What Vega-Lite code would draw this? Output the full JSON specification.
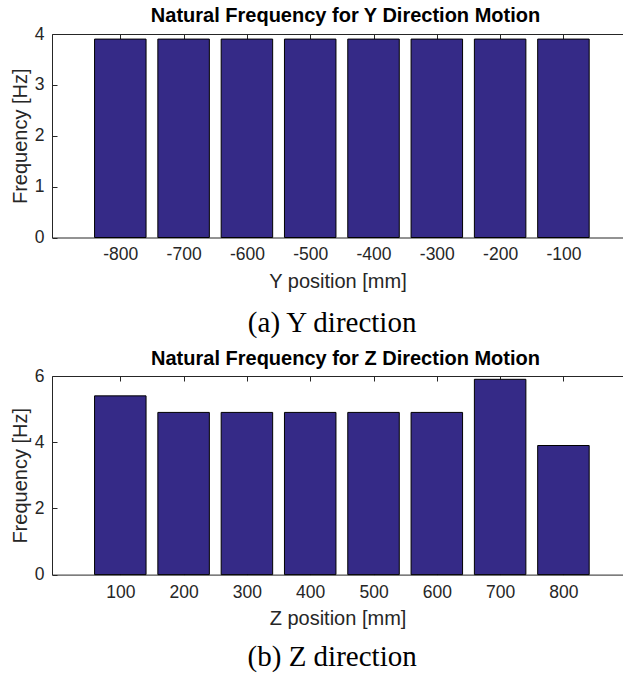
{
  "$schema": "https://vega.github.io/schema/vega-lite/v6.json",
  "padding": {"left": 10, "top": 6, "right": 0, "bottom": 0},
  "background": "white",
  "config": {
    "view": {"stroke": null},
    "axis": {
      "domainColor": "#262626",
      "tickColor": "#262626",
      "labelColor": "#262626",
      "titleColor": "#262626",
      "labelFont": "Liberation Sans",
      "titleFont": "Liberation Sans",
      "labelFontSize": 17.5,
      "titleFontSize": 20,
      "titleFontWeight": "normal",
      "grid": false,
      "tickSize": -5,
      "domainWidth": 1,
      "tickWidth": 1
    },
    "title": {"font": "Liberation Sans", "fontSize": 20, "fontWeight": "bold", "color": "black"}
  },
  "datasets": {
    "ydir": [
      {"pos": -800, "freq": 3.9},
      {"pos": -700, "freq": 3.9},
      {"pos": -600, "freq": 3.9},
      {"pos": -500, "freq": 3.9},
      {"pos": -400, "freq": 3.9},
      {"pos": -300, "freq": 3.9},
      {"pos": -200, "freq": 3.9},
      {"pos": -100, "freq": 3.9}
    ],
    "zdir": [
      {"pos": 100, "freq": 5.4},
      {"pos": 200, "freq": 4.9},
      {"pos": 300, "freq": 4.9},
      {"pos": 400, "freq": 4.9},
      {"pos": 500, "freq": 4.9},
      {"pos": 600, "freq": 4.9},
      {"pos": 700, "freq": 5.9},
      {"pos": 800, "freq": 3.9}
    ]
  },
  "spacing": 11,
  "vconcat": [
    {
      "title": {"text": "(a) Y direction", "orient": "bottom", "font": "Liberation Serif", "fontSize": 29, "fontWeight": "normal", "color": "black", "anchor": "middle", "offset": 18, "dx": 15.5},
      "vconcat": [
        {
          "title": {"text": "Natural Frequency for Y Direction Motion", "anchor": "middle", "offset": -1, "dx": 8},
          "width": 571,
          "height": 203.5,
          "data": {"name": "ydir"},
          "resolve": {"axis": {"x": "independent"}},
          "layer": [
            {
              "mark": {"type": "bar", "color": "#352A87", "stroke": "black", "strokeWidth": 1, "size": 51.5},
              "encoding": {
                "x": {"field": "pos", "type": "quantitative", "scale": {"domain": [-900, -13.8], "nice": false, "zero": false},
                      "axis": {"orient": "bottom", "values": [-800, -700, -600, -500, -400, -300, -200, -100], "labelExpr": "replace(datum.label, '\u2212', '-')", "title": "Y position [mm]", "labelPadding": 13, "titlePadding": 8}},
                "y": {"field": "freq", "type": "quantitative", "scale": {"domain": [0, 4], "nice": false},
                      "axis": {"values": [0, 1, 2, 3, 4], "format": "d", "title": "Frequency [Hz]", "labelPadding": 13, "titlePadding": 4}}
              }
            },
            {
              "mark": {"type": "bar", "opacity": 0, "size": 51.5},
              "encoding": {
                "x": {"field": "pos", "type": "quantitative",
                      "axis": {"orient": "top", "values": [-800, -700, -600, -500, -400, -300, -200, -100], "labels": false, "title": null}},
                "y": {"field": "freq", "type": "quantitative"}
              }
            }
          ]
        }
      ]
    },
    {
      "title": {"text": "(b) Z direction", "orient": "bottom", "font": "Liberation Serif", "fontSize": 29, "fontWeight": "normal", "color": "black", "anchor": "middle", "offset": 15, "dx": 15.5},
      "vconcat": [
        {
          "title": {"text": "Natural Frequency for Z Direction Motion", "anchor": "middle", "offset": -2, "dx": 8},
          "width": 571,
          "height": 198.6,
          "data": {"name": "zdir"},
          "resolve": {"axis": {"x": "independent"}},
          "layer": [
            {
              "mark": {"type": "bar", "color": "#352A87", "stroke": "black", "strokeWidth": 1, "size": 51.5},
              "encoding": {
                "x": {"field": "pos", "type": "quantitative", "scale": {"domain": [0, 886.2], "nice": false, "zero": false},
                      "axis": {"orient": "bottom", "values": [100, 200, 300, 400, 500, 600, 700, 800], "title": "Z position [mm]", "labelPadding": 14, "titlePadding": 7}},
                "y": {"field": "freq", "type": "quantitative", "scale": {"domain": [0, 6], "nice": false},
                      "axis": {"values": [0, 2, 4, 6], "format": "d", "title": "Frequency [Hz]", "labelPadding": 13, "titlePadding": 4}}
              }
            },
            {
              "mark": {"type": "bar", "opacity": 0, "size": 51.5},
              "encoding": {
                "x": {"field": "pos", "type": "quantitative",
                      "axis": {"orient": "top", "values": [100, 200, 300, 400, 500, 600, 700, 800], "labels": false, "title": null}},
                "y": {"field": "freq", "type": "quantitative"}
              }
            }
          ]
        }
      ]
    }
  ]
}
